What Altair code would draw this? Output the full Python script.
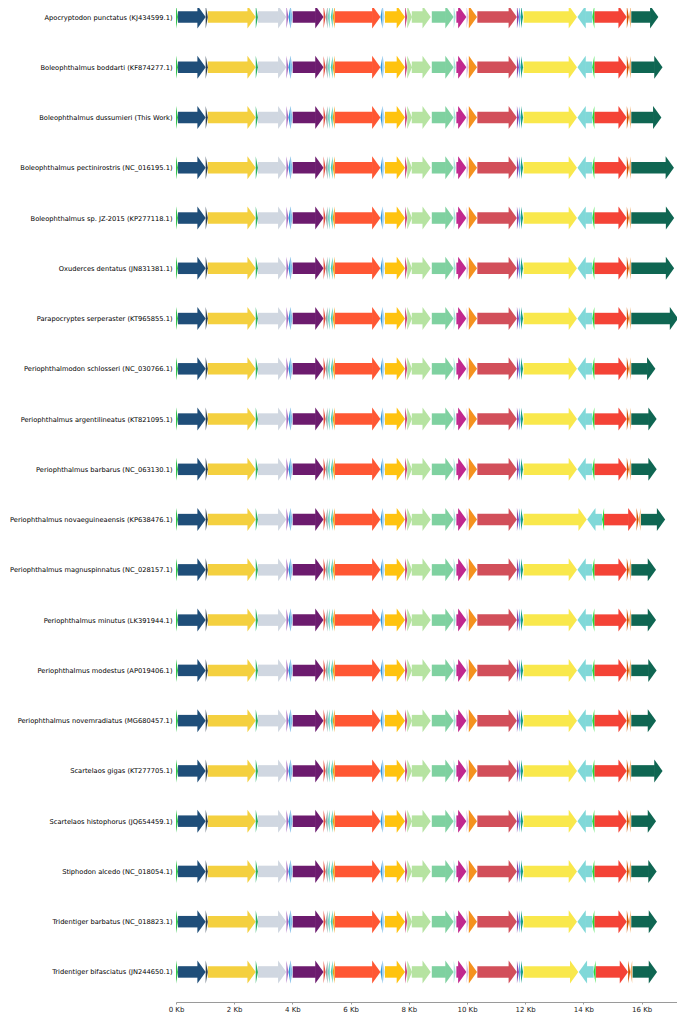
import altair as alt
import pandas as pd

# ---------------- data ----------------
species = [
    "Apocryptodon punctatus (KJ434599.1)",
    "Boleophthalmus boddarti (KF874277.1)",
    "Boleophthalmus dussumieri (This Work)",
    "Boleophthalmus pectinirostris (NC_016195.1)",
    "Boleophthalmus sp. JZ-2015 (KP277118.1)",
    "Oxuderces dentatus (JN831381.1)",
    "Parapocryptes serperaster (KT965855.1)",
    "Periophthalmodon schlosseri (NC_030766.1)",
    "Periophthalmus argentilineatus (KT821095.1)",
    "Periophthalmus barbarus (NC_063130.1)",
    "Periophthalmus novaeguineaensis (KP638476.1)",
    "Periophthalmus magnuspinnatus (NC_028157.1)",
    "Periophthalmus minutus (LK391944.1)",
    "Periophthalmus modestus (AP019406.1)",
    "Periophthalmus novemradiatus (MG680457.1)",
    "Scartelaos gigas (KT277705.1)",
    "Scartelaos histophorus (JQ654459.1)",
    "Stiphodon alcedo (NC_018054.1)",
    "Tridentiger barbatus (NC_018823.1)",
    "Tridentiger bifasciatus (JN244650.1)",
]
genome_len = [16575, 16720, 16680, 17111, 17120, 17118, 17255, 16474, 16517, 16518,
              16810, 16496, 16497, 16515, 16497, 16720, 16497, 16516, 16531, 16531]
# extra length of ND5 (shifts the genes after it), per species
nd5_extra = [0, 0, 0, 0, 0, 0, 0, 0, 0, 0,
             335, 0, 0, 0, 0, 0, 0, 0, 0, 45]

gene_names = ["trnF", "rrnS", "trnV", "rrnL", "trnL2", "ND1", "trnI", "trnQ", "trnM", "ND2",
              "trnW", "trnA", "trnN", "trnC", "trnY", "COX1", "trnS2", "trnD", "COX2", "trnK",
              "ATP8", "ATP6", "COX3", "trnG", "ND3", "trnR", "ND4L", "ND4", "trnH", "trnS1",
              "trnL1", "ND5", "ND6", "trnE", "CYTB", "trnT", "trnP", "D-loop"]
gene_starts = [1, 70, 1021, 1093, 2741, 2816, 3795, 3864, 3935, 4010,
               5070, 5142, 5212, 5318, 5386, 5460, 7026, 7100, 7180, 7872,
               7947, 8103, 8790, 9542, 9635, 9982, 10062, 10355, 11716, 11786,
               11855, 11945, 13795, 14306, 14375, 15492, 15563, 15645]
gene_ends = [69, 1020, 1092, 2740, 2815, 3792, 3864, 3934, 4004, 5070,
             5140, 5210, 5285, 5385, 5455, 7025, 7096, 7170, 7870, 7945,
             8112, 8755, 9540, 9612, 9980, 10052, 10345, 11715, 11785, 11853,
             11927, 13780, 14305, 14374, 15490, 15563, 15632, 0]
gene_strands = [1, 1, 1, 1, 1, 1, 1, -1, 1, 1,
                1, -1, -1, -1, -1, 1, -1, 1, 1, 1,
                1, 1, 1, 1, 1, 1, 1, 1, 1, 1,
                1, 1, -1, -1, 1, 1, -1, 1]
gene_colors = ["#33C24D", "#1F4E79", "#2C3E50", "#F4D03F", "#27AE60", "#D0D7E1", "#A569BD", "#3498DB", "#85C1E9", "#6C1B6E",
               "#E74C3C", "#95A5A6", "#76D7C4", "#48C9B0", "#F39C12", "#FF5733", "#3498DB", "#AED6F1", "#FFC30F", "#C9457F",
               "#B6E3A1", "#B6E3A1", "#7FD1A0", "#A3E4D7", "#C1288E", "#D7BDE2", "#F5921E", "#D24F5A", "#8E44AD", "#5DADE2",
               "#16A085", "#F9E84C", "#80D8D8", "#22DD33", "#F44336", "#D35400", "#F0A860", "#0F6652"]

x_ticks = [0, 2000, 4000, 6000, 8000, 10000, 12000, 14000, 16000]

# ---------------- layout / style ----------------
PAD_LEFT = 168
PLOT_W = 501
PX_PER_KB = 29.1
X_MAX = PLOT_W / PX_PER_KB * 1000.0
PLOT_H = 994
ROW0 = 9
ROW_STEP = 50.26
HEAD_HALF = 11.5
BODY_HALF = 5.75
HEAD_PX = 8.3
FONT = "DejaVu Sans"

head_bp = HEAD_PX / PX_PER_KB * 1000.0
hh = HEAD_HALF / ROW_STEP
bh = BODY_HALF / ROW_STEP
y_dom = [-ROW0 / ROW_STEP, (PLOT_H - ROW0) / ROW_STEP]
head_size = (2 * HEAD_HALF) ** 2
overlap_bp = 0.6 / PX_PER_KB * 1000.0


def tri_path(width_px, fwd):
    w = width_px / 2.0 / HEAD_HALF
    if fwd:
        return "M %.4f -1 L %.4f 0 L %.4f 1 Z" % (-w, w, -w)
    return "M %.4f -1 L %.4f 0 L %.4f 1 Z" % (w, -w, w)


nd5_idx = gene_names.index("ND5")
body_recs, tri_recs = [], []
for r in range(len(species)):
    s = nd5_extra[r]
    for gi, g in enumerate(gene_names):
        a, b = gene_starts[gi], gene_ends[gi]
        if gi > nd5_idx:
            a += s
            b += s
        elif gi == nd5_idx:
            b += s
        if g == "D-loop":
            b = genome_len[r]
        fwd = gene_strands[gi] == 1
        L = b - a
        if L > head_bp:
            if fwd:
                body_recs.append({"row": r, "gene": g, "bx1": a, "bx2": b - head_bp + overlap_bp,
                                  "by1": r - bh, "by2": r + bh})
                tri_recs.append({"row": r, "gene": g, "tx": b - head_bp / 2.0,
                                 "path": tri_path(HEAD_PX, True)})
            else:
                body_recs.append({"row": r, "gene": g, "bx1": a + head_bp - overlap_bp, "bx2": b,
                                  "by1": r - bh, "by2": r + bh})
                tri_recs.append({"row": r, "gene": g, "tx": a + head_bp / 2.0,
                                 "path": tri_path(HEAD_PX, False)})
        else:
            tri_recs.append({"row": r, "gene": g, "tx": (a + b) / 2.0,
                             "path": tri_path(L * PX_PER_KB / 1000.0, fwd)})

bodies_df = pd.DataFrame(body_recs)
tris_df = pd.DataFrame(tri_recs)

label_expr = "[" + ",".join("'" + n + "'" for n in species) + "][datum.value]"

xs = alt.Scale(domain=[0, X_MAX], nice=False, zero=False)
ys = alt.Scale(domain=y_dom, reverse=True, nice=False, zero=False)
cs = alt.Scale(domain=gene_names, range=gene_colors)

x_axis = alt.Axis(values=x_ticks, labelExpr="(datum.value/1000) + ' Kb'", title=None,
                  grid=False, domainColor="#9a9a9a", tickColor="#9a9a9a", tickSize=2,
                  labelPadding=1, labelFontSize=7, labelFont=FONT,
                  labelColor="#222222", labelFlush=False)
y_axis = alt.Axis(values=list(range(len(species))), labelExpr=label_expr, title=None,
                  grid=False, domain=False, ticks=False, tickSize=0, labelPadding=4,
                  labelFontSize=6.7, labelFont=FONT, labelColor="#000000", labelLimit=400)

bodies = alt.Chart(bodies_df).mark_rect(opacity=1, strokeWidth=0).encode(
    x=alt.X("bx1:Q", scale=xs, axis=x_axis),
    x2="bx2:Q",
    y=alt.Y("by1:Q", scale=ys, axis=y_axis),
    y2="by2:Q",
    color=alt.Color("gene:N", scale=cs, legend=None),
)

tris = alt.Chart(tris_df).mark_point(
    filled=True, opacity=1, strokeWidth=0, size=head_size
).encode(
    x=alt.X("tx:Q", scale=xs, axis=x_axis),
    y=alt.Y("row:Q", scale=ys, axis=y_axis),
    shape=alt.Shape("path:N", scale=None, legend=None),
    color=alt.Color("gene:N", scale=cs, legend=None),
)

chart = alt.layer(bodies, tris).properties(
    width=PLOT_W, height=PLOT_H,
    autosize=alt.AutoSizeParams(type="none"),
    padding={"left": PAD_LEFT, "top": 0, "right": 0, "bottom": 10},
).configure_view(strokeWidth=0)

chart.save("out.html", embed_options={"renderer": "svg", "actions": False})
